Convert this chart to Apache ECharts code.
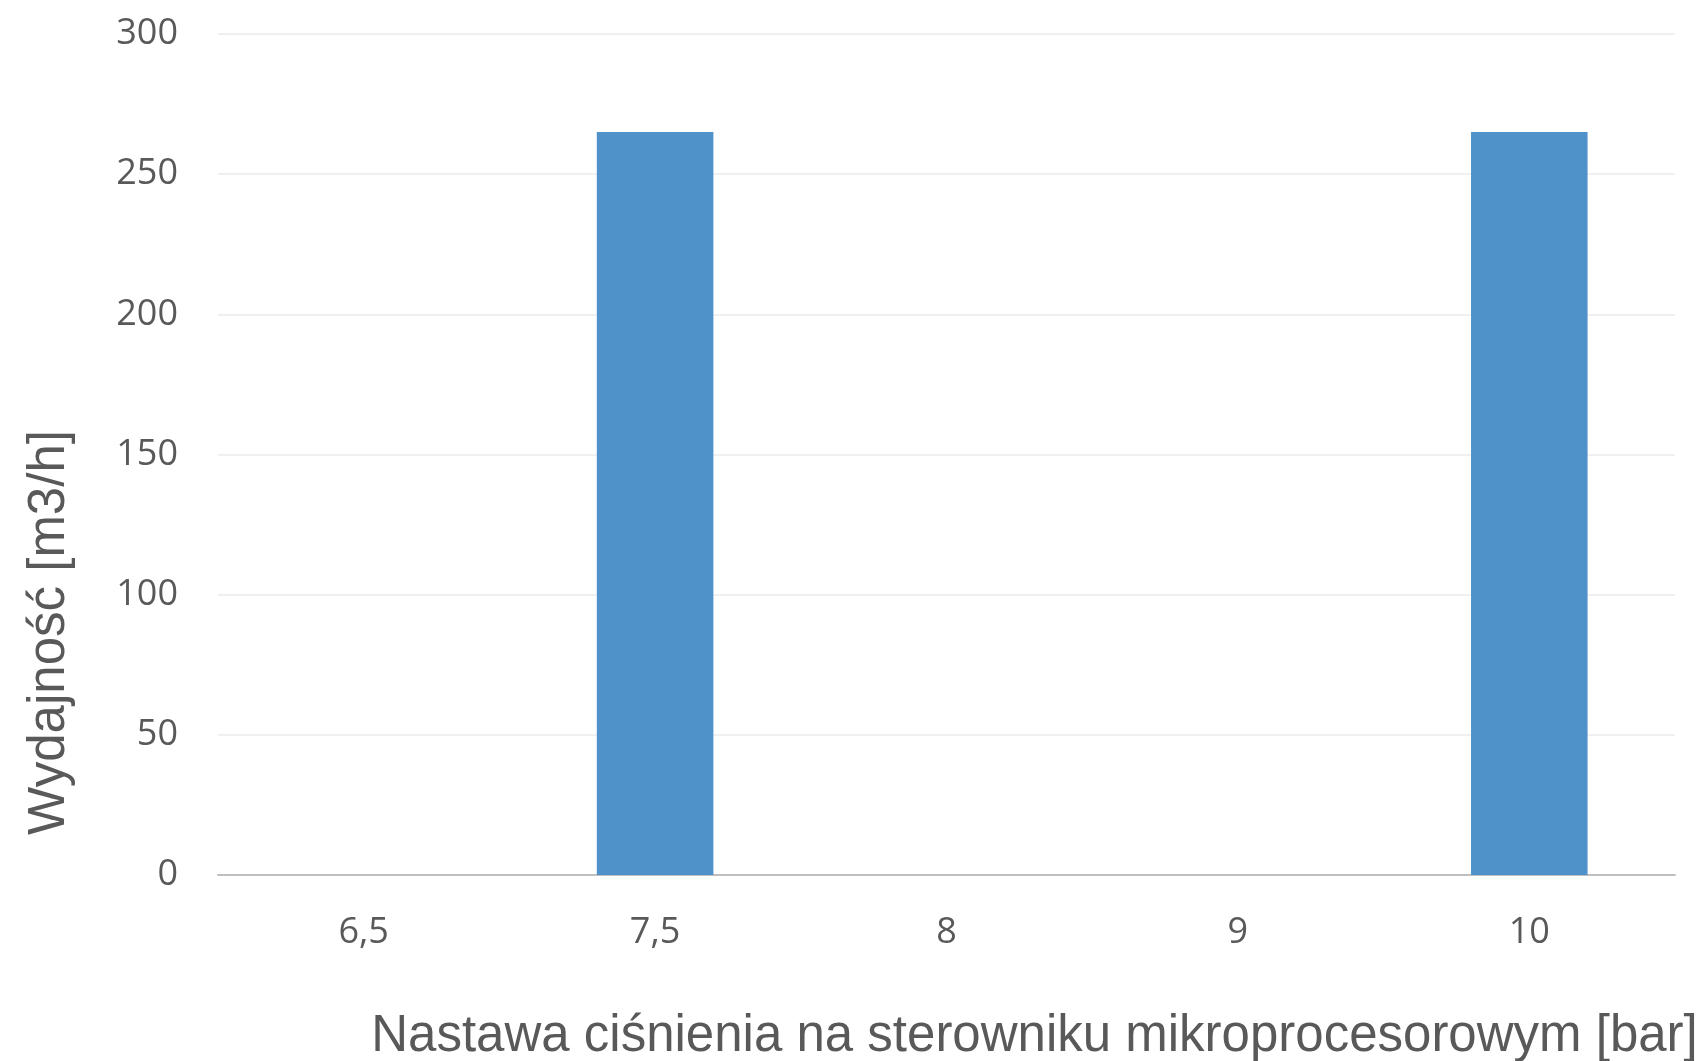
<!DOCTYPE html>
<html>
<head>
<meta charset="utf-8">
<script src="https://cdn.jsdelivr.net/npm/echarts@6/dist/echarts.min.js"></script>
<style>
  html, body { margin: 0; padding: 0; background: #fff; overflow: hidden; }
  #chart { width: 1707px; height: 1061px; }
</style>
</head>
<body>
<div id="chart"></div>
<script>
// Pressure setpoints on the controller [bar]
const categories = ['6,5', '7,5', '8', '9', '10'];
// Throughput [m3/h] at each setpoint
const throughput = [0, 265, 0, 0, 265];
// Value axis ticks
const yMin = 0;
const yMax = 300;
const yStep = 50;

const chart = echarts.init(document.getElementById('chart'), null, { renderer: 'canvas' });

chart.setOption({
  backgroundColor: '#ffffff',
  animation: false,
  grid: {
    left: 218, right: 32, top: 34, bottom: 186,
    containLabel: false,
    outerBoundsMode: 'none'
  },
  xAxis: {
    type: 'category',
    data: categories,
    name: 'Nastawa ciśnienia na sterowniku mikroprocesorowym [bar]',
    nameLocation: 'middle',
    nameGap: 136,
    nameTextStyle: {
      fontFamily: 'Liberation Sans, Arial, sans-serif',
      fontSize: 51,
      color: '#595959',
      padding: [0, 0, 0, 176]
    },
    axisLine: { show: true, lineStyle: { color: '#bfbfbf', width: 2 } },
    axisTick: { show: false },
    axisLabel: {
      margin: 40,
      fontFamily: 'Open Sans, sans-serif',
      fontSize: 36,
      color: '#595959'
    },
    splitLine: { show: false }
  },
  yAxis: {
    type: 'value',
    min: yMin,
    max: yMax,
    interval: yStep,
    name: 'Wydajność [m3/h]',
    nameLocation: 'middle',
    nameGap: 143,
    nameRotate: 90,
    nameTextStyle: {
      fontFamily: 'Liberation Sans, Arial, sans-serif',
      fontSize: 51,
      color: '#595959',
      padding: [0, 356, 0, 0]
    },
    axisLine: { show: false },
    axisTick: { show: false },
    axisLabel: {
      margin: 40,
      fontFamily: 'Open Sans, sans-serif',
      fontSize: 36,
      color: '#595959'
    },
    splitLine: { show: true, lineStyle: { color: '#f0f0f0', width: 2 } }
  },
  series: [{
    type: 'bar',
    data: throughput,
    barWidth: '40%',
    itemStyle: { color: '#4f92ca' }
  }]
});
</script>
</body>
</html>
